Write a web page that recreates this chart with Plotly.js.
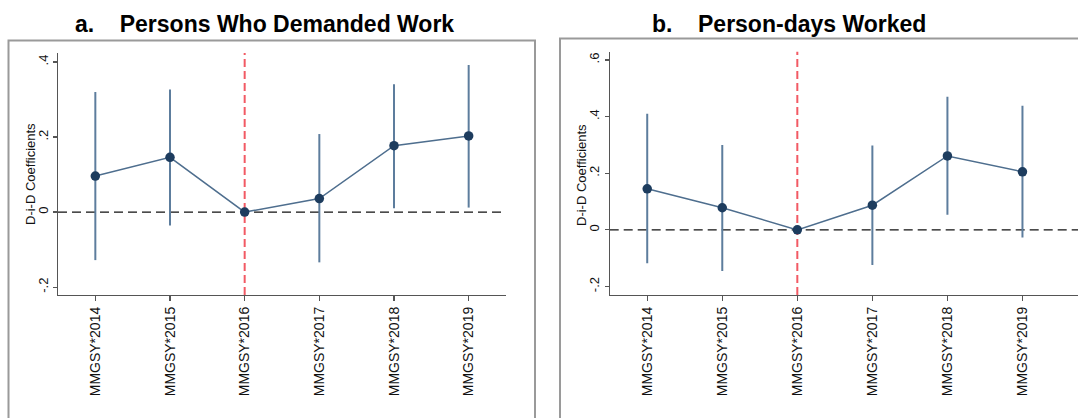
<!DOCTYPE html>
<html>
<head>
<meta charset="utf-8">
<script src="https://cdn.plot.ly/plotly-3.0.1.min.js"></script>
<style>
  html, body { margin: 0; padding: 0; background: #fff; overflow: hidden; }
  #chart { width: 1078px; height: 418px; }
</style>
</head>
<body>
<div id="chart"></div>
<script>
// ---- Data ----
const categories = ['MMGSY*2014', 'MMGSY*2015', 'MMGSY*2016', 'MMGSY*2017', 'MMGSY*2018', 'MMGSY*2019'];
const refCategory = 'MMGSY*2016';

// Panel a: Persons Who Demanded Work
const coefA = [0.096, 0.146, 0.0, 0.036, 0.177, 0.203];
const loA   = [-0.128, -0.036, 0.0, -0.134, 0.010, 0.012];
const hiA   = [0.320, 0.327, 0.0, 0.208, 0.341, 0.392];

// Panel b: Person-days Worked
const coefB = [0.145, 0.078, 0.0, 0.087, 0.261, 0.205];
const loB   = [-0.118, -0.145, 0.0, -0.124, 0.053, -0.027];
const hiB   = [0.410, 0.300, 0.0, 0.298, 0.470, 0.438];

const yTicksA = [-0.2, 0, 0.2, 0.4];
const yTickTextA = ['-.2', '0', '.2', '.4'];
const yTicksB = [-0.2, 0, 0.2, 0.4, 0.6];
const yTickTextB = ['-.2', '0', '.2', '.4', '.6'];

const titleA = 'a.\u00a0\u00a0\u00a0\u00a0Persons Who Demanded Work';
const titleB = 'b.\u00a0\u00a0\u00a0\u00a0Person-days Worked';
const yTitle = 'D-i-D Coefficients';

// ---- Styling ----
const W = 1078, H = 418;
const FONT = 'Liberation Sans, Arial, Helvetica, sans-serif';
const lineCol = '#4e6e8e';
const markerCol = '#1d3c5e';
const ciCol = '#5d7d9d';

function trace(coef, lo, hi, xa, ya) {
  return {
    type: 'scatter', mode: 'lines+markers',
    x: categories, y: coef, xaxis: xa, yaxis: ya,
    line: { color: lineCol, width: 1.5 },
    marker: { color: markerCol, size: 9.5 },
    error_y: {
      type: 'data', symmetric: false,
      array: hi.map((h, i) => h - coef[i]),
      arrayminus: lo.map((l, i) => coef[i] - l),
      width: 0, thickness: 2, color: ciCol
    },
    hoverinfo: 'skip', showlegend: false, cliponaxis: false
  };
}

const px = v => v / W;
const py = v => 1 - v / H;

function xaxisCfg(domain, range, anchor) {
  return {
    domain: domain, range: range, anchor: anchor,
    type: 'category', categoryorder: 'array', categoryarray: categories,
    showline: true, linecolor: '#555', linewidth: 1.2,
    ticks: 'outside', ticklen: 5, tickcolor: '#555', tickwidth: 1.2,
    tickangle: -90, tickfont: { family: FONT, size: 14, color: '#111' },
    showgrid: false, zeroline: false, fixedrange: true
  };
}
function yaxisCfg(domain, range, anchor, tv, tt) {
  return {
    domain: domain, range: range, anchor: anchor,
    tickvals: tv, ticktext: tt,
    showline: true, linecolor: '#555', linewidth: 1.2,
    ticks: 'outside', ticklen: 4, tickcolor: '#555', tickwidth: 1.2,
    tickangle: -90, tickfont: { family: FONT, size: 13, color: '#111' },
    ticklabelstandoff: 0,
    showgrid: false, zeroline: false, fixedrange: true
  };
}

const idxRef = categories.indexOf(refCategory);

const layout = {
  width: W, height: H,
  margin: { l: 0, r: 0, t: 0, b: 0 },
  paper_bgcolor: '#fff', plot_bgcolor: '#fff',
  showlegend: false,
  xaxis:  xaxisCfg([px(58), px(506)], [-0.5, 5.5], 'y'),
  yaxis:  yaxisCfg([py(295), py(53)], [-0.221, 0.424], 'x', yTicksA, yTickTextA),
  xaxis2: xaxisCfg([px(609.7), 1], [-0.5, 5.74], 'y2'),
  yaxis2: yaxisCfg([py(295), py(51.7)], [-0.23, 0.629], 'x2', yTicksB, yTickTextB),
  shapes: [
    // panel frames
    { type: 'rect', xref: 'paper', yref: 'paper', x0: px(8.5), x1: px(535), y0: -0.2, y1: py(40.5),
      line: { color: '#9a9a9a', width: 2 }, fillcolor: 'rgba(0,0,0,0)', layer: 'below' },
    { type: 'rect', xref: 'paper', yref: 'paper', x0: px(560), x1: 1.2, y0: -0.2, y1: py(38.5),
      line: { color: '#9a9a9a', width: 2 }, fillcolor: 'rgba(0,0,0,0)', layer: 'below' },
    // zero reference lines
    { type: 'line', xref: 'x domain', yref: 'y', x0: 0, x1: 1, y0: 0, y1: 0,
      line: { color: '#111', width: 1.3, dash: '9px,5px' }, layer: 'below' },
    { type: 'line', xref: 'x2 domain', yref: 'y2', x0: 0, x1: 1, y0: 0, y1: 0,
      line: { color: '#111', width: 1.3, dash: '9px,5px' }, layer: 'below' },
    // reference year lines
    { type: 'line', xref: 'x', yref: 'y domain', x0: idxRef, x1: idxRef, y0: 0, y1: 1,
      line: { color: '#f25a64', width: 2, dash: '8px,4px' }, layer: 'below' },
    { type: 'line', xref: 'x2', yref: 'y2 domain', x0: idxRef, x1: idxRef, y0: 0, y1: 1,
      line: { color: '#f25a64', width: 2, dash: '8px,4px' }, layer: 'below' }
  ],
  annotations: [
    { text: '<b>' + titleA + '</b>', xref: 'paper', yref: 'paper', x: px(264.5), y: py(24),
      xanchor: 'center', yanchor: 'middle', showarrow: false,
      font: { family: FONT, size: 23, color: '#000' } },
    { text: '<b>' + titleB + '</b>', xref: 'paper', yref: 'paper', x: px(788.5), y: py(24),
      xanchor: 'center', yanchor: 'middle', showarrow: false,
      font: { family: FONT, size: 23, color: '#000' } },
    { text: yTitle, xref: 'paper', yref: 'paper', x: px(30), y: py(174),
      xanchor: 'center', yanchor: 'middle', textangle: -90, showarrow: false,
      font: { family: FONT, size: 13, color: '#111' } },
    { text: yTitle, xref: 'paper', yref: 'paper', x: px(581), y: py(175),
      xanchor: 'center', yanchor: 'middle', textangle: -90, showarrow: false,
      font: { family: FONT, size: 13, color: '#111' } }
  ]
};

Plotly.newPlot('chart', [
  trace(coefA, loA, hiA, 'x', 'y'),
  trace(coefB, loB, hiB, 'x2', 'y2')
], layout, { displayModeBar: false, staticPlot: true });
</script>
</body>
</html>
